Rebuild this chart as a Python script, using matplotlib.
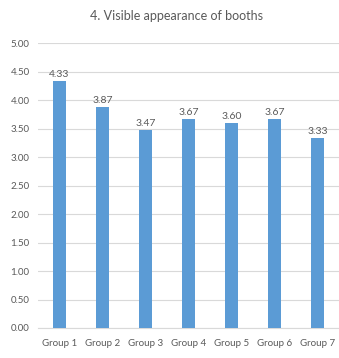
import matplotlib
matplotlib.use("Agg")
import matplotlib.pyplot as plt

categories = ["Group 1", "Group 2", "Group 3", "Group 4", "Group 5", "Group 6", "Group 7"]
values = [4.33, 3.87, 3.47, 3.67, 3.60, 3.67, 3.33]
yticks = [0.0, 0.5, 1.0, 1.5, 2.0, 2.5, 3.0, 3.5, 4.0, 4.5, 5.0]
title = "4. Visible appearance of booths"

plt.rcParams["font.family"] = ["Lato", "DejaVu Sans"]
text_color = "#595959"
bar_color = "#5B9BD5"
grid_color = "#D9D9D9"

fig = plt.figure(figsize=(3.39, 3.58), dpi=100)
ax = fig.add_axes([0.112, 0.0838, 0.888, 0.796])

x = range(len(categories))
bars = ax.bar(x, values, width=0.32, color=bar_color, zorder=3)
for xi, v in zip(x, values):
    ax.text(xi, v + 0.04, f"{v:.2f}", ha="center", va="bottom",
            fontsize=7.5, color=text_color)

ax.set_xlim(-0.5, len(categories) - 0.5)
ax.set_ylim(0, 5)
ax.set_yticks(yticks)
ax.set_yticklabels([f"{t:.2f}" for t in yticks])
ax.set_xticks(list(x))
ax.set_xticklabels(categories)
ax.yaxis.grid(True, color=grid_color, linewidth=0.8, zorder=0)
ax.tick_params(axis="both", length=0, labelsize=7, colors=text_color)
ax.tick_params(axis="x", pad=8)
ax.tick_params(axis="y", pad=6)
for side in ["top", "right", "left"]:
    ax.spines[side].set_visible(False)
ax.spines["bottom"].set_color(grid_color)
ax.spines["bottom"].set_linewidth(0.8)

fig.text(0.52, 0.955, title, ha="center", va="center", fontsize=9, color=text_color)

fig.savefig("out.png", dpi=100)
